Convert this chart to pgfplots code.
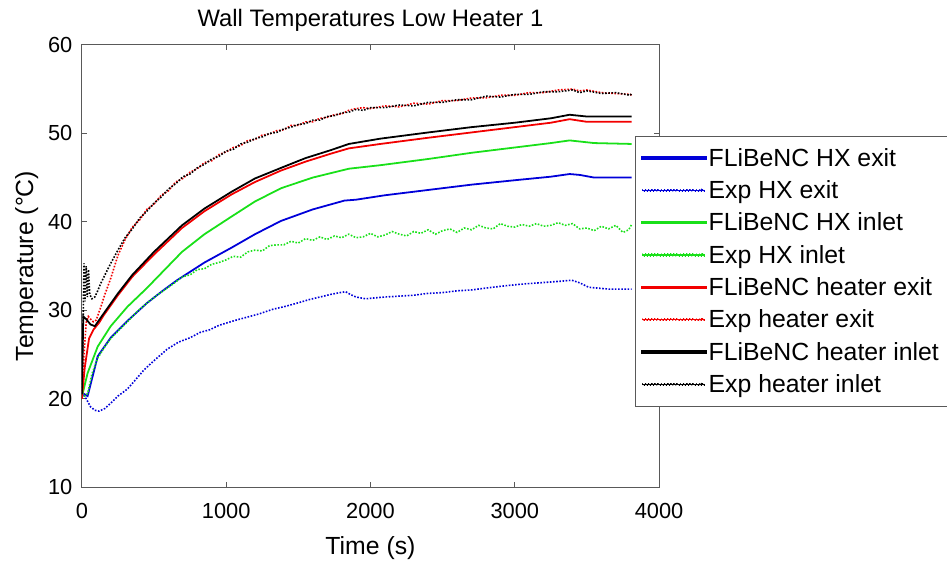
\documentclass[border=0pt]{standalone}
\usepackage{pgfplots}
\pgfplotsset{compat=1.18}
\usepackage{fontspec}
\setmainfont{Liberation Sans}
\definecolor{mblue}{rgb}{0,0,0.85}
\definecolor{mgreen}{rgb}{0.1,0.88,0.1}
\definecolor{mred}{rgb}{0.95,0,0}
\definecolor{axgray}{rgb}{0.35,0.35,0.35}
% fixed row height for legend entries
\newcommand{\ls}{\rule[-6pt]{0pt}{24pt}}
% legend samples drawn as filled shapes
\pgfplotsset{
  solidleg/.style={legend image code/.code={\fill[##1] (0pt,-0.9pt) rectangle (64pt,0.9pt);}},
  dotleg/.style={legend image code/.code={\foreach \k in {0,...,19} {\fill[##1] (\k*3.2pt,-0.8pt) rectangle ++(1.6pt,1.6pt);}}},
}
\begin{document}
\begin{tikzpicture}
\begin{axis}[
scale only axis,
width=582pt, height=446pt,
xmin=0, xmax=4000,
ymin=10, ymax=60,
xtick={0,1000,2000,3000,4000},
ytick={10,20,30,40,50,60},
tick align=inside,
major tick length=5pt,
axis line style={axgray, line width=0.8pt},
tick style={axgray, line width=0.8pt},
/pgf/number format/assume math mode=true,
/pgf/number format/set thousands separator={},
tick label style={font=\fontsize{22}{26}\selectfont},
xticklabel style={yshift=-13pt},
yticklabel style={xshift=-6pt},
label style={font=\fontsize{25}{28}\selectfont},
xlabel style={yshift=-11pt},
ylabel style={yshift=3pt},
title style={font=\fontsize{24}{28}\selectfont, yshift=4pt},
title={Wall Temperatures Low Heater 1},
xlabel={Time (s)},
ylabel={Temperature (°C)},
legend cell align=left,
legend style={
  at={(rel axis cs:0.9588,0.7937)}, anchor=north west,
  draw=axgray,
  font=\fontsize{25}{28}\selectfont,
  row sep=9pt, inner xsep=6pt, inner ysep=10pt,
},
]

\addplot[color=mblue, line width=1.8pt, solidleg]
coordinates {
(0,20.7)(40,20.3)(110,24.8)(200,26.9)(316,28.8)(450,30.8)(560,32.2)(660,33.4)
(850,35.4)(1040,37.1)(1200,38.6)(1380,40.1)(1600,41.4)(1820,42.4)(1900,42.5)
(2100,43.0)(2400,43.6)(2700,44.2)(3000,44.7)(3250,45.1)(3380,45.4)(3450,45.3)
(3550,45.0)(3810,45.0)
};
\addplot[color=mblue, line width=1.6pt, dash pattern=on 1.6pt off 1.6pt, dotleg]
coordinates {
(0,20.7)(30,20.0)(60,19.1)(90,18.7)(120,18.6)(160,18.9)(200,19.5)(250,20.3)
(316,21.1)(380,22.3)(433,23.3)(500,24.3)(591,25.6)(670,26.4)(750,26.9)(820,27.5)
(887,27.8)(950,28.3)(1050,28.8)(1140,29.2)(1230,29.6)(1320,30.1)(1400,30.4)
(1490,30.8)(1574,31.2)(1650,31.5)(1725,31.8)(1790,32.0)(1828,32.1)(1860,31.8)
(1900,31.5)(1966,31.3)(2030,31.4)(2100,31.5)(2200,31.6)(2300,31.7)(2392,31.9)
(2500,32.0)(2600,32.2)(2700,32.3)(2845,32.6)(2950,32.8)(3079,33.0)(3170,33.1)
(3250,33.2)(3330,33.3)(3395,33.4)(3450,33.1)(3512,32.6)(3580,32.5)(3650,32.4)
(3730,32.4)(3810,32.4)
};
\addplot[color=mgreen, line width=1.8pt, solidleg]
coordinates {
(0,20.2)(40,22.9)(110,25.9)(200,28.2)(316,30.4)(450,32.5)(694,36.6)(850,38.6)
(1038,40.6)(1200,42.3)(1381,43.8)(1600,45.0)(1850,46.0)(2069,46.4)(2400,47.1)
(2700,47.8)(3000,48.4)(3250,48.9)(3380,49.2)(3550,48.9)(3810,48.8)
};
\addplot[color=mgreen, line width=1.6pt, dash pattern=on 1.6pt off 1.6pt, dotleg]
coordinates {
(0,20.6)(20,20.3)(40,20.6)(70,22.8)(110,24.6)(160,25.9)(200,26.8)(260,27.8)
(316,28.7)(380,29.8)(450,30.8)(520,31.7)(600,32.6)(650,33.2)(700,33.8)(750,34.0)
(800,34.6)(850,34.7)(900,35.2)(950,35.4)(1000,35.7)(1050,36.1)(1100,36.0)
(1150,36.6)(1200,36.8)(1250,36.7)(1300,37.3)(1350,37.4)(1400,37.4)(1450,37.8)
(1500,37.6)(1550,38.1)(1600,37.9)(1650,38.3)(1700,38.0)(1750,38.4)(1800,38.2)
(1850,38.6)(1900,38.2)(1950,38.3)(2000,38.7)(2050,38.3)(2100,38.5)(2150,38.9)
(2200,38.6)(2250,38.4)(2300,38.9)(2350,38.7)(2400,39.1)(2450,38.6)(2500,39.0)
(2550,39.2)(2600,38.8)(2650,39.3)(2700,39.1)(2750,39.6)(2800,39.3)(2850,39.2)
(2900,39.8)(2950,39.5)(3000,39.4)(3050,39.7)(3100,39.5)(3150,39.8)(3200,39.5)
(3250,39.6)(3300,39.9)(3350,39.6)(3400,39.8)(3450,39.2)(3500,39.3)(3550,39.0)
(3600,39.5)(3650,39.2)(3700,39.6)(3750,38.8)(3790,39.1)(3810,39.7)
};
\addplot[color=mred, line width=1.8pt, solidleg]
coordinates {
(0,20.0)(20,23.5)(50,26.8)(80,27.8)(120,28.6)(150,29.4)(250,31.7)(350,33.8)
(500,36.3)(694,39.3)(850,41.2)(1038,43.1)(1200,44.5)(1381,45.8)(1550,46.8)
(1725,47.7)(1850,48.3)(2069,48.8)(2400,49.5)(2700,50.1)(3000,50.7)(3250,51.2)
(3380,51.6)(3500,51.3)(3810,51.3)
};
\addplot[color=mred, line width=1.6pt, dash pattern=on 1.6pt off 1.6pt, dotleg]
coordinates {
(0,20.0)(15,25.0)(30,28.6)(45,29.3)(60,29.0)(80,28.7)(100,28.9)(130,30.3)
(160,31.8)(200,33.6)(250,36.2)(300,38.0)(350,39.4)(400,40.2)(450,41.4)(500,42.0)
(550,43.0)(600,43.5)(650,44.5)(700,44.9)(750,45.6)(800,46.0)(850,46.7)(900,46.9)
(950,47.6)(1000,47.9)(1050,48.4)(1100,48.6)(1150,49.2)(1200,49.3)(1250,49.8)
(1300,49.9)(1350,50.3)(1400,50.4)(1450,50.9)(1500,50.9)(1550,51.3)(1600,51.3)
(1650,51.7)(1700,51.8)(1750,52.1)(1800,52.2)(1850,52.6)(1900,52.8)(1950,52.9)
(2000,52.8)(2100,53.1)(2200,53.0)(2300,53.4)(2400,53.3)(2500,53.7)(2600,53.7)
(2700,54.0)(2800,54.0)(2900,54.3)(3000,54.3)(3100,54.6)(3200,54.6)(3300,54.9)
(3400,55.0)(3450,54.8)(3500,54.9)(3600,54.6)(3700,54.5)(3800,54.4)(3810,54.3)
};
\addplot[color=black, line width=1.8pt, solidleg]
coordinates {
(0,20.5)(10,29.3)(30,29.0)(60,28.4)(90,28.2)(150,29.6)(250,31.9)(350,34.0)
(500,36.6)(694,39.6)(850,41.5)(1038,43.4)(1200,44.9)(1381,46.1)(1550,47.2)
(1725,48.1)(1850,48.8)(2069,49.4)(2400,50.1)(2700,50.7)(3000,51.2)(3250,51.7)
(3380,52.1)(3500,51.9)(3810,51.9)
};
\addplot[color=black, line width=1.6pt, dash pattern=on 1.6pt off 1.6pt, dotleg]
coordinates {
(0,20.5)(8,27.5)(15,35.3)(22,31.0)(30,35.0)(38,31.5)(46,34.6)(55,31.8)(70,31.3)
(90,31.5)(110,32.2)(130,33.0)(160,34.0)(200,35.3)(250,36.8)(300,38.2)(350,39.2)
(400,40.4)(450,41.2)(500,42.1)(550,42.8)(600,43.7)(650,44.3)(700,45.1)(750,45.4)
(800,46.1)(850,46.5)(900,47.1)(950,47.4)(1000,48.0)(1050,48.2)(1100,48.8)
(1150,49.0)(1200,49.4)(1250,49.6)(1300,50.0)(1350,50.1)(1400,50.5)(1450,50.7)
(1500,51.0)(1550,51.1)(1600,51.5)(1650,51.5)(1700,51.9)(1750,52.0)(1800,52.3)
(1850,52.4)(1900,52.7)(1950,52.6)(2000,52.9)(2100,52.9)(2200,53.2)(2300,53.1)
(2400,53.5)(2500,53.5)(2600,53.8)(2700,53.8)(2800,54.2)(2900,54.1)(3000,54.4)
(3100,54.4)(3200,54.7)(3300,54.7)(3400,54.9)(3450,54.6)(3500,54.8)(3600,54.5)
(3700,54.6)(3800,54.3)(3810,54.5)
};

\legend{\ls FLiBeNC HX exit,\ls Exp HX exit,\ls FLiBeNC HX inlet,\ls Exp HX inlet,\ls FLiBeNC heater exit,\ls Exp heater exit,\ls FLiBeNC heater inlet,\ls Exp heater inlet}

\end{axis}
\path ([xshift=-12pt]current bounding box.west);
\path ([yshift=6pt]current bounding box.north);
\end{tikzpicture}
\end{document}
